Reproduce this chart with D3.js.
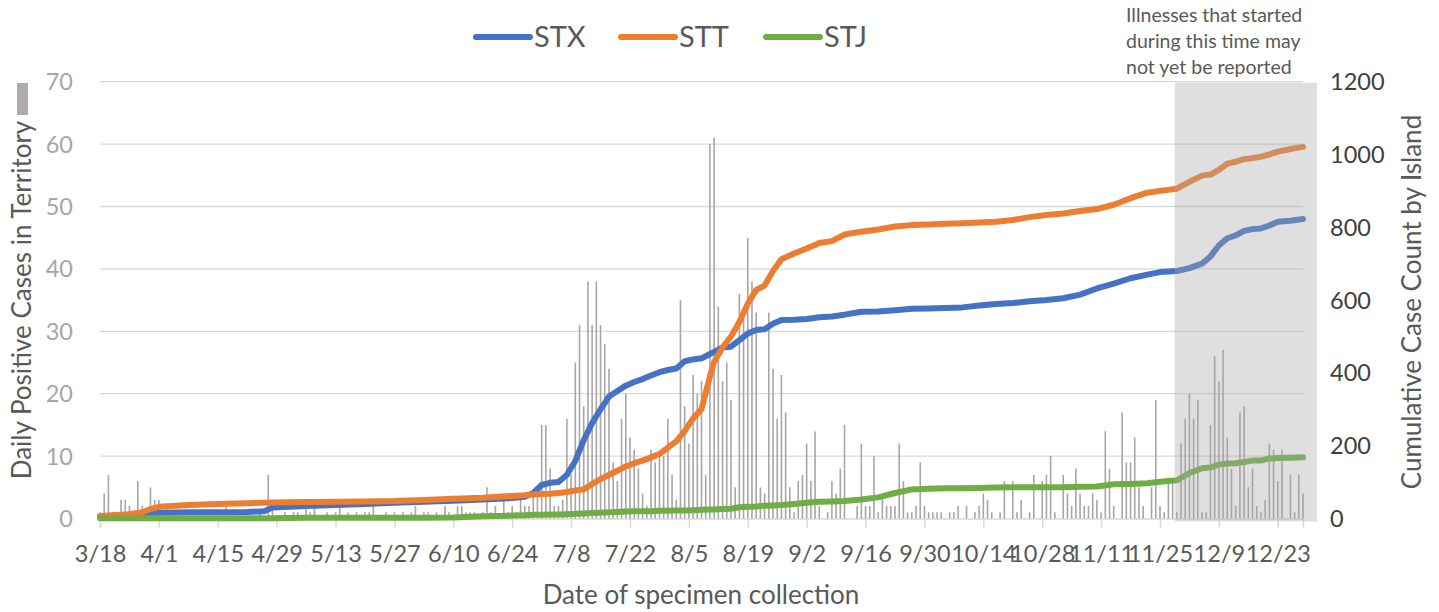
<!DOCTYPE html>
<html>
<head>
<meta charset="utf-8">
<script src="https://cdn.jsdelivr.net/npm/d3@7"></script>
<style>
  body { margin: 0; background: #fff; }
  svg { font-family: Lato, "Open Sans", sans-serif; }
</style>
</head>
<body>
<svg id="chart" width="1439" height="612"></svg>
<script>
// daily positive cases in territory, one per day starting 3/18
var dailyCases = [
  1,4,7,1,1,3,3,2,1,6,
  2,1,5,3,3,1,2,1,1,0,
  1,0,1,0,0,1,0,0,1,0,
  2,0,0,1,0,0,1,0,1,0,
  7,3,0,0,1,0,1,1,0,2,
  1,3,0,0,1,0,1,2,0,1,
  0,1,0,1,1,2,0,0,1,0,
  1,0,1,0,1,2,0,1,1,0,
  1,0,2,1,0,2,2,1,1,1,
  0,1,5,1,2,0,3,1,2,1,
  3,2,2,4,5,15,15,8,2,2,
  3,16,7,25,31,18,38,31,38,31,
  28,24,9,6,16,20,13,11,8,4,
  2,11,9,10,10,16,7,3,35,18,
  12,23,20,22,7,60,61,34,22,25,
  19,5,36,32,45,38,33,5,4,33,
  24,16,23,17,5,1,6,7,12,6,
  14,2,0,1,6,4,8,15,0,0,
  2,12,2,2,10,1,4,2,2,2,
  12,6,1,1,2,9,2,1,1,1,
  1,0,1,1,2,0,2,0,1,2,
  4,3,1,0,1,6,0,6,1,3,
  0,1,7,0,6,7,10,1,0,7,
  4,2,8,4,2,2,4,3,1,14,
  8,2,0,17,9,9,13,5,2,0,
  5,19,2,1,6,6,1,12,16,20,
  16,19,1,1,15,26,22,27,13,8,
  2,17,18,5,8,2,1,3,12,11,
  6,11,0,7,1,7,4
];

// dates where the cumulative lines were read
var lineDates = ["3/18","3/25","3/28","3/30","4/1","4/8","4/15","4/22","4/26","4/28",
  "5/6","5/13","5/20","5/27","6/3","6/10","6/17","6/24","6/27","6/29",
  "7/1","7/3","7/5","7/7","7/9","7/11","7/13","7/15","7/17","7/19",
  "7/21","7/23","7/25","7/27","7/29","7/31","8/2","8/4","8/6","8/8",
  "8/10","8/11","8/13","8/15","8/17","8/19","8/21","8/23","8/25","8/27",
  "8/30","9/2","9/5","9/8","9/11","9/15","9/19","9/23","9/27","10/1",
  "10/5","10/9","10/13","10/17","10/21","10/25","10/29","11/2","11/6","11/10",
  "11/14","11/18","11/22","11/25","11/29","12/2","12/5","12/7","12/9","12/11",
  "12/13","12/15","12/17","12/19","12/21","12/23","12/26","12/29"];

var stx = [5,10,12,15,16,17,17,18,20,30,
  34,37,40,43,46,49,52,56,60,70,
  92,98,100,120,158,215,262,300,335,350,
  365,375,383,393,402,408,412,432,437,440,
  452,458,470,472,490,508,518,520,535,545,
  546,548,553,555,560,568,569,572,576,577,
  578,580,585,589,592,597,600,605,615,632,
  645,660,670,677,680,688,700,720,750,770,
  778,790,795,797,805,815,818,823];

var stt = [7,12,17,26,32,37,40,42,43,44,
  45,46,47,48,51,54,57,62,64,66,
  67,68,70,73,77,80,95,108,120,131,
  143,152,159,168,177,195,212,240,275,300,
  390,430,470,500,540,590,628,640,680,712,
  728,742,757,762,780,788,794,802,806,808,
  810,811,813,815,820,828,834,838,845,850,
  862,880,895,900,906,925,942,945,958,975,
  980,987,990,994,1000,1008,1015,1021];

var stj = [1,1,1,1,1,1,1,1,1,1,
  2,2,2,2,2,3,6,8,9,10,
  10,11,11,12,13,14,15,16,17,18,
  19,20,20,20,21,21,22,22,23,24,
  25,25,26,27,31,32,33,35,36,37,
  40,43,46,47,48,52,58,70,80,82,
  83,83,84,85,86,86,86,86,87,88,
  94,95,97,101,105,125,138,140,148,151,
  152,155,159,159,165,166,167,168];

var series = [
  { name: "STX", values: stx, color: "#4472c4" },
  { name: "STT", values: stt, color: "#ed7d31" },
  { name: "STJ", values: stj, color: "#70ad47" }
];

var xTickLabels = ["3/18","4/1","4/15","4/29","5/13","5/27","6/10","6/24","7/8","7/22",
  "8/5","8/19","9/2","9/16","9/30","10/14","10/28","11/11","11/25","12/9","12/23"];
var leftTicks = [0,10,20,30,40,50,60,70];
var rightTicks = [0,200,400,600,800,1000,1200];

function parseDay(s) {
  var p = s.split("/");
  return new Date(2020, +p[0] - 1, +p[1]);
}

var startDate = parseDay("3/18"), endDate = parseDay("12/29");
var shadeStart = parseDay("11/28");

var svg = d3.select("#chart");
var plotL = 100, plotR = 1303, plotT = 81.7, plotB = 518.5;

var x = d3.scaleTime().domain([startDate, endDate]).range([plotL, plotR]);
var y = d3.scaleLinear().domain([0, 70]).range([plotB, plotT]);
var y2 = d3.scaleLinear().domain([0, 1200]).range([plotB, plotT]);

// grid
svg.append("g").selectAll("line")
  .data(leftTicks.slice(1))
  .enter().append("line")
  .attr("x1", plotL).attr("x2", plotR)
  .attr("y1", function(d) { return y(d); })
  .attr("y2", function(d) { return y(d); })
  .attr("stroke", "#d9d9d9").attr("stroke-width", 1.3);

// x axis
var xAxis = svg.append("g")
  .attr("transform", "translate(0," + plotB + ")")
  .call(d3.axisBottom(x).tickValues(xTickLabels.map(parseDay)).tickSize(9)
    .tickFormat(function(d) { return (d.getMonth() + 1) + "/" + d.getDate(); }));
xAxis.select(".domain").attr("stroke", "#d9d9d9").attr("stroke-width", 1.5);
xAxis.selectAll(".tick line").attr("stroke", "#d9d9d9").attr("stroke-width", 1.5);
xAxis.selectAll(".tick text")
  .attr("y", 43.5).attr("dy", 0)
  .attr("fill", "#595959")
  .style("font-size", "23.5px")
  .style("font-family", "Lato, sans-serif");

// daily bars
svg.append("g").selectAll("line")
  .data(dailyCases)
  .enter().append("line")
  .attr("x1", function(d, i) { return x(d3.timeDay.offset(startDate, i)); })
  .attr("x2", function(d, i) { return x(d3.timeDay.offset(startDate, i)); })
  .attr("y1", y(0))
  .attr("y2", function(d) { return y(d); })
  .attr("stroke", "#a8a5a5").attr("stroke-width", 1.6);

// cumulative lines
var line = d3.line()
  .x(function(d, i) { return x(parseDay(lineDates[i])); })
  .y(function(d) { return y2(d); });

svg.append("g").selectAll("path")
  .data(series)
  .enter().append("path")
  .attr("d", function(s) { return line(s.values); })
  .attr("fill", "none")
  .attr("stroke", function(s) { return s.color; })
  .attr("stroke-width", 6)
  .attr("stroke-linejoin", "round")
  .attr("stroke-linecap", "round");

// shaded "not yet reported" window
var sx = x(d3.timeHour.offset(shadeStart, 12));
svg.append("rect")
  .attr("x", sx).attr("y", plotT + 1)
  .attr("width", x(endDate) + 14 - sx)
  .attr("height", plotB + 3 - plotT - 1)
  .attr("fill", "#a6a6a6").attr("fill-opacity", 0.36);

svg.append("g").selectAll("text")
  .data(["Illnesses that started", "during this time may", "not yet be reported"])
  .enter().append("text")
  .attr("x", 1126).attr("y", function(d, i) { return 22 + i * 26; })
  .attr("fill", "#595959")
  .style("font-size", "19.5px")
  .text(function(d) { return d; });

// left axis labels
svg.append("g").selectAll("text")
  .data(leftTicks)
  .enter().append("text")
  .attr("x", 73).attr("y", function(d) { return y(d); })
  .attr("dy", "0.36em")
  .attr("text-anchor", "end")
  .attr("fill", "#a6a6a6")
  .style("font-size", "23.5px")
  .text(function(d) { return d; });

// right axis labels
svg.append("g").selectAll("text")
  .data(rightTicks)
  .enter().append("text")
  .attr("x", 1330).attr("y", function(d) { return y2(d); })
  .attr("dy", "0.36em")
  .attr("fill", "#404040")
  .style("font-size", "23.5px")
  .text(function(d) { return d; });

// axis titles
svg.append("text")
  .attr("transform", "translate(31,300) rotate(-90)")
  .attr("text-anchor", "middle")
  .attr("fill", "#595959")
  .style("font-size", "26px")
  .text("Daily Positive Cases in Territory");

svg.append("text")
  .attr("transform", "translate(1421,302) rotate(-90)")
  .attr("text-anchor", "middle")
  .attr("fill", "#595959")
  .style("font-size", "26px")
  .text("Cumulative Case Count by Island");

svg.append("text")
  .attr("x", 701).attr("y", 604)
  .attr("text-anchor", "middle")
  .attr("fill", "#595959")
  .style("font-size", "26px")
  .text("Date of specimen collection");

// bar legend swatch
svg.append("rect")
  .attr("x", 17).attr("y", 83).attr("width", 11).attr("height", 32)
  .attr("fill", "#afabab");

// legend
var leg = svg.append("g").selectAll("g")
  .data(series)
  .enter().append("g")
  .attr("transform", function(d, i) { return "translate(" + (476 + i * 145) + ",37)"; });
leg.append("line")
  .attr("x1", 0).attr("x2", 54)
  .attr("stroke", function(d) { return d.color; })
  .attr("stroke-width", 6)
  .attr("stroke-linecap", "round");
leg.append("text")
  .attr("x", 58).attr("dy", "0.36em")
  .attr("fill", "#595959")
  .style("font-size", "29px")
  .text(function(d) { return d.name; });
</script>
</body>
</html>
